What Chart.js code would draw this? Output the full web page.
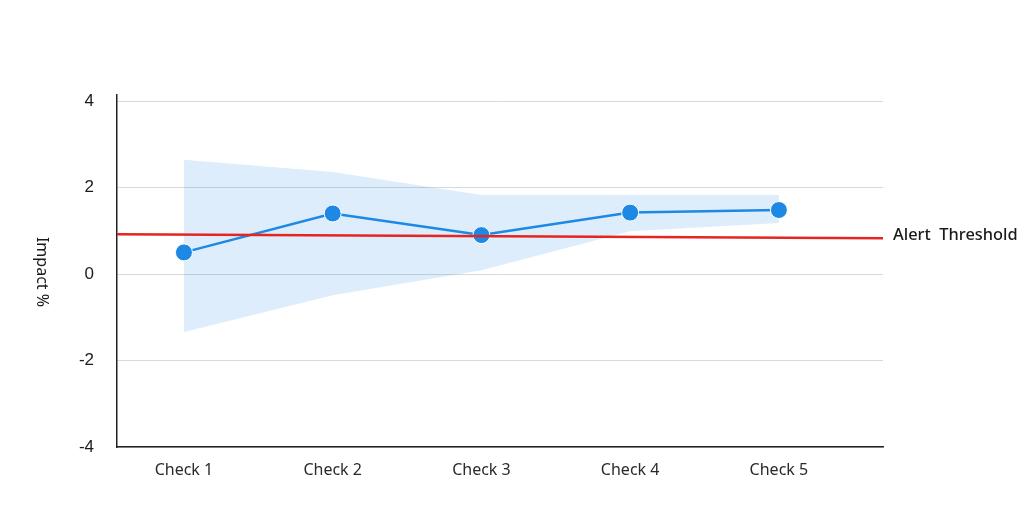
<!DOCTYPE html>
<html>
<head>
<meta charset="utf-8">
<script src="https://cdn.jsdelivr.net/npm/chart.js@4.4.0/dist/chart.umd.min.js"></script>
<style>
html,body{margin:0;padding:0;background:#fff;}
#wrap{width:1024px;height:532px;position:relative;}
</style>
</head>
<body>
<div id="wrap"><canvas id="c" width="1024" height="532"></canvas></div>
<script>
const categories = ['Check 1', 'Check 2', 'Check 3', 'Check 4', 'Check 5'];
const checkIndex = [1, 2, 3, 4, 5];
const impact = [0.5, 1.4, 0.9, 1.42, 1.48];
const upperBound = [2.64, 2.36, 1.83, 1.83, 1.83];
const lowerBound = [-1.34, -0.49, 0.09, 0.99, 1.18];
const thresholdX = [0.55, 5.7];
const thresholdY = [0.92, 0.83];
const yTicks = [-4, -2, 0, 2, 4];
const yTitle = 'Impact %';
const thresholdLabel = 'Alert  Threshold';

const pts = (xs, ys) => xs.map((x, i) => ({ x: x, y: ys[i] }));

const extraText = {
  id: 'extraText',
  afterDraw(chart) {
    const ctx = chart.ctx;
    const area = chart.chartArea;
    const y = chart.scales.y;
    ctx.save();
    ctx.font = '16px "Noto Sans"';
    ctx.fillStyle = '#1a1a1a';
    ctx.textAlign = 'center';
    ctx.textBaseline = 'middle';
    ctx.translate(42, (area.top + area.bottom) / 2 + 1);
    ctx.rotate(Math.PI / 2);
    ctx.fillText(yTitle, 0, 0);
    ctx.restore();
    ctx.save();
    ctx.font = '500 16.4px "Noto Sans"';
    ctx.fillStyle = '#1a1a1a';
    ctx.textAlign = 'left';
    ctx.textBaseline = 'middle';
    ctx.fillText(thresholdLabel, area.right + 10, y.getPixelForValue(thresholdY[1]) - 3);
    ctx.restore();
  }
};

new Chart(document.getElementById('c'), {
  type: 'line',
  data: {
    datasets: [
      {
        label: 'lower',
        data: pts(checkIndex, lowerBound),
        borderWidth: 0,
        borderColor: 'rgba(0,0,0,0)',
        pointRadius: 0,
        fill: false,
        tension: 0,
        order: 3
      },
      {
        label: 'upper',
        data: pts(checkIndex, upperBound),
        borderWidth: 0,
        borderColor: 'rgba(0,0,0,0)',
        backgroundColor: 'rgba(30,136,229,0.15)',
        pointRadius: 0,
        fill: '-1',
        tension: 0,
        order: 3
      },
      {
        label: 'Alert Threshold',
        data: pts(thresholdX, thresholdY),
        borderColor: '#e52521',
        borderWidth: 2.5,
        pointRadius: 0,
        fill: false,
        tension: 0,
        order: 1
      },
      {
        label: 'Impact',
        data: pts(checkIndex, impact),
        borderColor: '#1e88e5',
        backgroundColor: '#1e88e5',
        borderWidth: 2.5,
        pointRadius: 8.5,
        pointBorderColor: '#ffffff',
        pointBorderWidth: 1,
        pointBackgroundColor: '#1e88e5',
        fill: false,
        tension: 0,
        order: 2
      }
    ]
  },
  options: {
    responsive: false,
    animation: false,
    devicePixelRatio: 1,
    layout: { padding: { left: 57, right: 141, top: 95, bottom: 45 } },
    plugins: {
      legend: { display: false },
      tooltip: { enabled: false }
    },
    scales: {
      x: {
        type: 'linear',
        min: thresholdX[0],
        max: thresholdX[1],
        afterBuildTicks: s => { s.ticks = checkIndex.map(v => ({ value: v })); },
        afterFit: s => { s.height = 40; },
        grid: { display: false, drawTicks: false },
        border: { display: true, color: '#222', width: 1.5 },
        ticks: {
          padding: 14,
          color: '#2a2a2a',
          font: { family: '"Noto Sans"', size: 16 },
          callback: v => categories[checkIndex.indexOf(v)] || ''
        }
      },
      y: {
        type: 'linear',
        min: -4,
        max: 4.14,
        afterBuildTicks: s => { s.ticks = yTicks.map(v => ({ value: v })); },
        afterFit: s => { s.width = 60; },
        grid: { color: '#d9d9d9', lineWidth: 1, drawTicks: false },
        border: { display: true, color: '#222', width: 1.5 },
        ticks: {
          padding: 23,
          color: '#1a1a1a',
          font: { family: '"Liberation Sans", Arial', size: 17 },
          callback: v => String(v)
        }
      }
    }
  },
  plugins: [extraText]
});
</script>
</body>
</html>
